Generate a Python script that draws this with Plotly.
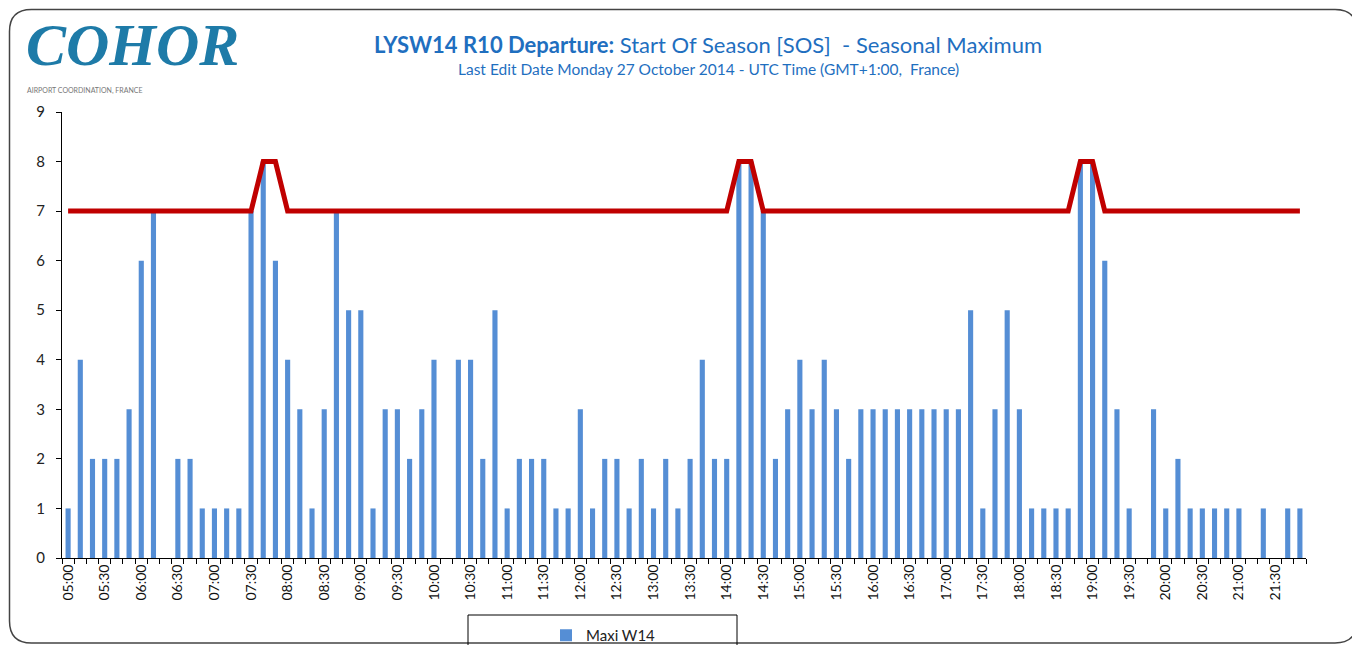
import plotly.graph_objects as go

# ---------------- data ----------------
times = [f"{h:02d}:{m:02d}" for h in range(5, 22) for m in range(0, 60, 10)]
maxi_w14 = [
    1, 4, 2, 2, 2, 3,      # 05:00-05:50
    6, 7, 0, 2, 2, 1,      # 06:00-06:50
    1, 1, 1, 7, 8, 6,      # 07:00-07:50
    4, 3, 1, 3, 7, 5,      # 08:00-08:50
    5, 1, 3, 3, 2, 3,      # 09:00-09:50
    4, 0, 4, 4, 2, 5,      # 10:00-10:50
    1, 2, 2, 2, 1, 1,      # 11:00-11:50
    3, 1, 2, 2, 1, 2,      # 12:00-12:50
    1, 2, 1, 2, 4, 2,      # 13:00-13:50
    2, 8, 8, 7, 2, 3,      # 14:00-14:50
    4, 3, 4, 3, 2, 3,      # 15:00-15:50
    3, 3, 3, 3, 3, 3,      # 16:00-16:50
    3, 3, 5, 1, 3, 5,      # 17:00-17:50
    3, 1, 1, 1, 1, 8,      # 18:00-18:50
    8, 6, 3, 1, 0, 3,      # 19:00-19:50
    1, 2, 1, 1, 1, 1,      # 20:00-20:50
    1, 0, 1, 0, 1, 1,      # 21:00-21:50
]
seasonal_max = [
    7, 7, 7, 7, 7, 7,
    7, 7, 7, 7, 7, 7,
    7, 7, 7, 7, 8, 8,
    7, 7, 7, 7, 7, 7,
    7, 7, 7, 7, 7, 7,
    7, 7, 7, 7, 7, 7,
    7, 7, 7, 7, 7, 7,
    7, 7, 7, 7, 7, 7,
    7, 7, 7, 7, 7, 7,
    7, 8, 8, 7, 7, 7,
    7, 7, 7, 7, 7, 7,
    7, 7, 7, 7, 7, 7,
    7, 7, 7, 7, 7, 7,
    7, 7, 7, 7, 7, 8,
    8, 7, 7, 7, 7, 7,
    7, 7, 7, 7, 7, 7,
    7, 7, 7, 7, 7, 7,
]
tick_text = [t if i % 3 == 0 else "" for i, t in enumerate(times)]
y_ticks = list(range(0, 10))

title_bold = "LYSW14 R10 Departure:"
title_rest = " Start Of Season [SOS]  - Seasonal Maximum"
subtitle = "Last Edit Date Monday 27 October 2014 - UTC Time (GMT+1:00,  France)"
legend_name = "Maxi W14"

# ---------------- layout helpers ----------------
OFF = 8                      # page body margin
W, H = 1360 - OFF, 645 - OFF
PL, PT, PR, PB = 62, 112, 1306, 558   # plot box in page pixels
L, T = PL - OFF, PT - OFF
R, B = W - (PR - OFF), H - (PB - OFF)
PW, PH = W - L - R, H - T - B


def px(x):
    return (x - OFF - L) / PW


def py(y):
    return (H - B - (y - OFF)) / PH


def rounded_rect(x0, y0, x1, y1, r):
    rx, ry = r / PW, r / PH
    X0, X1 = px(x0), px(x1)
    Y0, Y1 = py(y0), py(y1)
    return (f"M {X0+rx},{Y0} L {X1-rx},{Y0} Q {X1},{Y0} {X1},{Y0-ry} "
            f"L {X1},{Y1+ry} Q {X1},{Y1} {X1-rx},{Y1} "
            f"L {X0+rx},{Y1} Q {X0},{Y1} {X0},{Y1+ry} "
            f"L {X0},{Y0-ry} Q {X0},{Y0} {X0+rx},{Y0} Z")


BLUE = "#1F6FBF"
FONT = "Lato"

fig = go.Figure()
fig.add_trace(go.Bar(
    x=times, y=maxi_w14, name=legend_name,
    marker=dict(color="#558ED5", line=dict(width=0)),
    hoverinfo="x+y",
))
fig.add_trace(go.Scatter(
    x=times, y=seasonal_max, mode="lines", name="Seasonal Maximum",
    line=dict(color="#C00000", width=5), showlegend=False,
))

fig.update_layout(
    template="none",
    width=W, height=H,
    margin=dict(l=L, r=R, t=T, b=B, pad=0, autoexpand=False),
    paper_bgcolor="white", plot_bgcolor="white",
    bargap=0.58,
    font=dict(family=FONT, color="#222"),
    showlegend=True,
    legend=dict(
        x=px(546), y=py(619), xanchor="left", yanchor="top",
        orientation="h", bgcolor="rgba(0,0,0,0)", borderwidth=0,
        font=dict(size=15, color="#222", family=FONT),
    ),
    xaxis=dict(
        type="category", automargin=False,
        tickmode="array", tickvals=times, ticktext=tick_text,
        tickson="boundaries", ticks="outside", ticklen=5, tickwidth=1,
        tickcolor="black", tickangle=-90,
        tickfont=dict(size=14, color="#111", family=FONT),
        showline=True, linecolor="black", linewidth=1,
        showgrid=False, zeroline=False,
    ),
    yaxis=dict(
        range=[0, 9], tickmode="array", tickvals=y_ticks, automargin=False,
        ticks="outside", ticklen=5, tickwidth=1, tickcolor="black",
        tickfont=dict(size=15, color="#222", family=FONT),
        showline=True, linecolor="black", linewidth=1,
        showgrid=False, zeroline=False, ticklabelstandoff=8,
    ),
    shapes=[
        dict(type="path", xref="paper", yref="paper",
             path=rounded_rect(9.5, 9.5, 1357, 643, 22),
             line=dict(color="#444", width=1.5), layer="below"),
        dict(type="rect", xref="paper", yref="paper",
             x0=px(468), x1=px(737), y0=py(660), y1=py(615),
             line=dict(color="black", width=1), fillcolor="rgba(0,0,0,0)"),
    ],
    annotations=[
        dict(xref="paper", yref="paper", x=px(708), y=py(44),
             text=f"<b>{title_bold}</b>{title_rest}", showarrow=False,
             font=dict(size=22, color=BLUE, family=FONT),
             xanchor="center", yanchor="middle"),
        dict(xref="paper", yref="paper", x=px(708), y=py(69),
             text=subtitle, showarrow=False,
             font=dict(size=15.5, color=BLUE, family=FONT),
             xanchor="center", yanchor="middle"),
        dict(xref="paper", yref="paper", x=px(24), y=py(45),
             text="<b><i>COHOR</i></b>", showarrow=False,
             font=dict(size=60, color="#1E7BA8", family="Liberation Serif"),
             xanchor="left", yanchor="middle"),
        dict(xref="paper", yref="paper", x=px(25), y=py(91),
             text="AIRPORT COORDINATION, FRANCE", showarrow=False,
             font=dict(size=7, color="#777", family=FONT),
             xanchor="left", yanchor="middle"),
    ],
)

fig.write_html("out.html")
